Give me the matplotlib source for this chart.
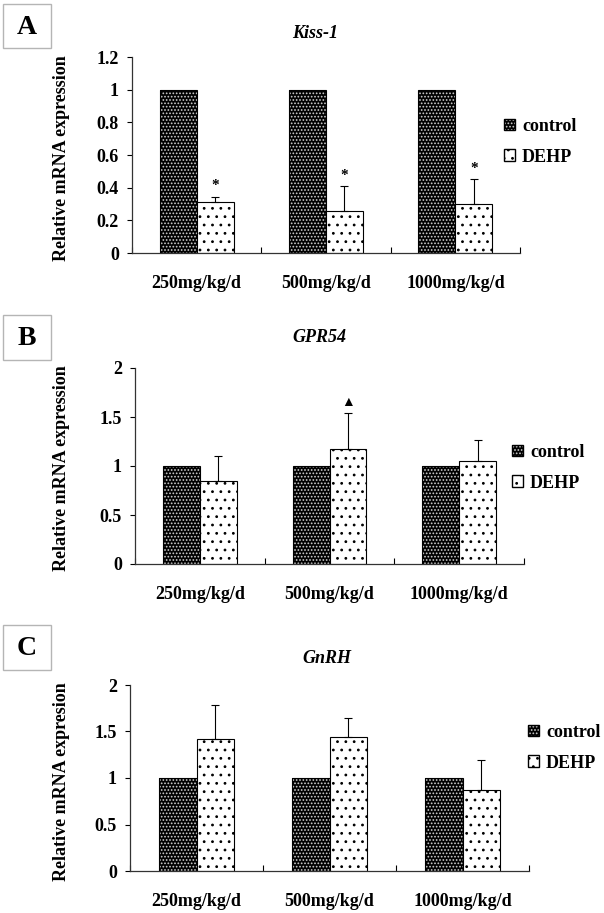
import matplotlib
matplotlib.use('Agg')
import matplotlib.pyplot as plt
from matplotlib.patches import Patch, Rectangle
from matplotlib.legend_handler import HandlerTuple
from matplotlib.ticker import FuncFormatter
import numpy as np

# ---------------- data ----------------
categories = ['250mg/kg/d', '500mg/kg/d', '1000mg/kg/d']
series_names = ['control', 'DEHP']

kiss_control = [1.0, 1.0, 1.0]
kiss_dehp = [0.31, 0.26, 0.30]
kiss_err = [0.035, 0.15, 0.155]
kiss_marks = ['*', '*', '*']

gpr_control = [1.0, 1.0, 1.0]
gpr_dehp = [0.85, 1.175, 1.05]
gpr_err = [0.25, 0.365, 0.215]
gpr_marks = ['', '▲', '']

gnrh_control = [1.0, 1.0, 1.0]
gnrh_dehp = [1.415, 1.443, 0.876]
gnrh_err = [0.37, 0.205, 0.316]
gnrh_marks = ['', '', '']

kiss_yticks = [0, 0.2, 0.4, 0.6, 0.8, 1.0, 1.2]
gpr_yticks = [0, 0.5, 1.0, 1.5, 2.0]
gnrh_yticks = [0, 0.5, 1.0, 1.5, 2.0]

# ---------------- style ----------------
W, H = 604, 913
plt.rcParams['font.family'] = ['Liberation Serif', 'DejaVu Sans']
plt.rcParams['font.weight'] = 'bold'
plt.rcParams['hatch.linewidth'] = 0.8

fig = plt.figure(figsize=(W / 100, H / 100), dpi=100)


def fx(px):
    return px / W


def fy(py):
    return 1 - py / H


FS = 13
BW = 0.285
CTRL_HATCH = '.....'
DEHP_HATCH = '..'


def panel(rect_px, control, dehp, err, marks, yticks, title, title_px,
          ylabel, ylabel_px, legend_px, letter, box_px, xlab_pad):
    l, t, r, b = rect_px
    ax = fig.add_axes([fx(l), fy(b), fx(r) - fx(l), fy(t) - fy(b)])
    x = np.arange(len(categories)) + 0.5
    ax.bar(x - BW / 2, control, BW, color='black', edgecolor='#cfcfcf',
           hatch=CTRL_HATCH, linewidth=0)
    ax.bar(x - BW / 2, control, BW, facecolor='none', edgecolor='black',
           linewidth=0.8)
    ax.bar(x + BW / 2, dehp, BW, color='white', edgecolor='black',
           hatch=DEHP_HATCH, linewidth=0.8)
    ax.errorbar(x + BW / 2, dehp, yerr=[np.zeros(len(dehp)), err], fmt='none',
                ecolor='black', elinewidth=0.8, capsize=3, capthick=0.8)
    for xi, v, e, m in zip(x, dehp, err, marks):
        if m:
            ax.annotate(m, (xi + BW / 2, v + e), xytext=(0, 3),
                        textcoords='offset points', ha='center', va='bottom',
                        fontsize=11 if m == '*' else 10, fontweight='bold')
    ax.set_xlim(0, len(categories))
    ax.set_ylim(yticks[0], yticks[-1])
    ax.set_yticks(yticks)
    ax.yaxis.set_major_formatter(FuncFormatter(lambda v, p: f'{v:g}'))
    ax.set_xticks(np.arange(len(categories) + 1))
    ax.set_xticklabels([])
    ax.set_xticks(x, minor=True)
    ax.set_xticklabels(categories, minor=True)
    ax.tick_params(axis='x', which='major', direction='in', length=4,
                   width=0.8)
    ax.tick_params(axis='x', which='minor', length=0, pad=xlab_pad,
                   labelsize=FS)
    ax.tick_params(axis='y', direction='out', length=3.5, width=0.8, pad=6,
                   labelsize=FS)
    for s in ['top', 'right']:
        ax.spines[s].set_visible(False)
    for s in ['left', 'bottom']:
        ax.spines[s].set_linewidth(0.9)
        ax.spines[s].set_color('#333333')
    for lab in ax.get_xticklabels(which='minor') + ax.get_yticklabels():
        lab.set_fontweight('bold')

    fig.text(fx(title_px[0]), fy(title_px[1]), title, ha='center',
             va='center', fontsize=FS, fontstyle='italic', fontweight='bold')
    fig.text(fx(ylabel_px[0]), fy(ylabel_px[1]), ylabel, ha='center',
             va='center', rotation=90, fontsize=FS, fontweight='bold')

    ctrl_handle = (Patch(facecolor='black', edgecolor='#cfcfcf',
                         hatch=CTRL_HATCH, linewidth=0),
                   Patch(facecolor='none', edgecolor='black', linewidth=1.0))
    dehp_handle = Patch(facecolor='white', edgecolor='black',
                        hatch=DEHP_HATCH, linewidth=1.0)
    fig.legend([ctrl_handle, dehp_handle], series_names, loc='upper left',
               bbox_to_anchor=(fx(legend_px[0]), fy(legend_px[1])),
               bbox_transform=fig.transFigure, frameon=False,
               handlelength=0.6, handleheight=0.6, handletextpad=0.4,
               labelspacing=0.75, borderpad=0, borderaxespad=0,
               prop={'size': FS, 'weight': 'bold'},
               handler_map={tuple: HandlerTuple(ndivide=1, pad=0)})

    bl, bt, br, bb = box_px
    fig.add_artist(Rectangle((fx(bl), fy(bb)), fx(br) - fx(bl),
                             fy(bt) - fy(bb), transform=fig.transFigure,
                             facecolor='white', edgecolor='#b5b5b5',
                             linewidth=1.0))
    fig.text(fx((bl + br) / 2), fy((bt + bb) / 2 + 1), letter, ha='center',
             va='center', fontsize=20, fontweight='bold')
    return ax


panel((132, 57, 520, 253), kiss_control, kiss_dehp, kiss_err, kiss_marks,
      kiss_yticks, 'Kiss-1', (315, 33), 'Relative mRNA expression', (62, 158),
      (504, 118), 'A', (3, 4, 51, 48), 16)

panel((135, 368, 524, 564), gpr_control, gpr_dehp, gpr_err, gpr_marks,
      gpr_yticks, 'GPR54', (319, 338), 'Relative mRNA expression', (62, 468),
      (512, 444), 'B', (3, 315, 51, 360), 16)

panel((130, 685, 529, 871), gnrh_control, gnrh_dehp, gnrh_err, gnrh_marks,
      gnrh_yticks, 'GnRH', (327, 658), 'Relative mRNA expresion', (62, 782),
      (528, 724), 'C', (3, 625, 51, 670), 16)

fig.savefig('out.png', dpi=100)
